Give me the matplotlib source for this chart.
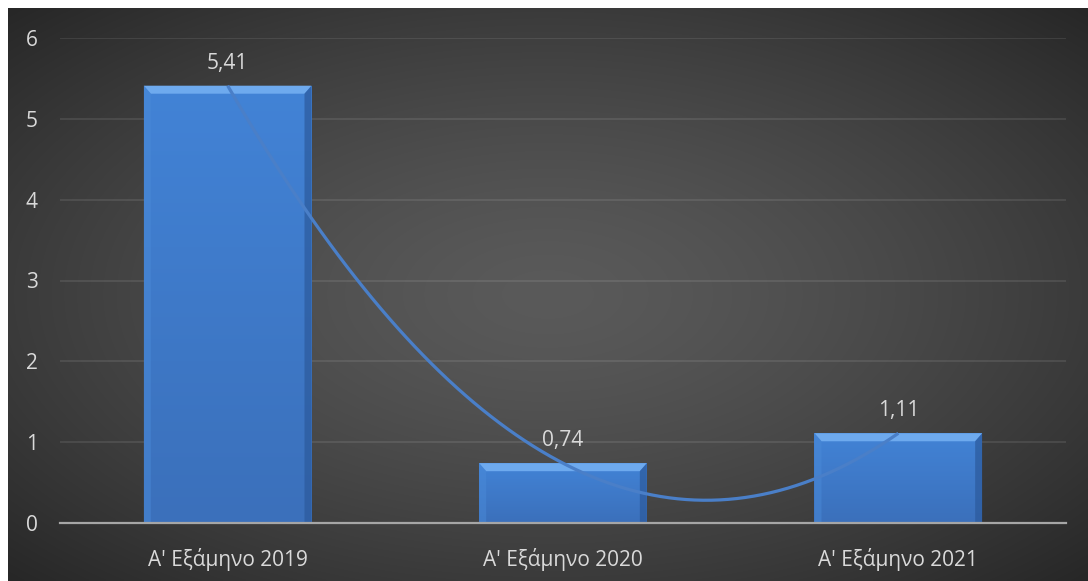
import numpy as np
import matplotlib.pyplot as plt
from matplotlib.colors import LinearSegmentedColormap
from matplotlib.patches import Polygon

periods = ["Α' Εξάμηνο 2019", "Α' Εξάμηνο 2020", "Α' Εξάμηνο 2021"]
values = [5.41, 0.74, 1.11]
yticks = [0, 1, 2, 3, 4, 5, 6]

plt.rcParams['font.family'] = ['Open Sans', 'DejaVu Sans']
txt_color = '#d9d9d9'

fig = plt.figure(figsize=(10.88, 5.81), dpi=100, facecolor='white')

# dark radial background of the chart area
bg = fig.add_axes([8/1088, 0, 1080/1088, 573/581])
bg.set_axis_off()
gx, gy = np.meshgrid(np.linspace(-1, 1, 400), np.linspace(-1, 1, 220))
r = np.clip(np.sqrt(gx**2 + gy**2) / np.sqrt(2), 0, 1)
shade = 0x5a - (0x5a - 0x27) * r**1.4
img = np.dstack([shade, shade, shade]) / 255
bg.imshow(img, extent=[0, 1, 0, 1], aspect='auto', interpolation='bilinear')
bg.set_xlim(0, 1)
bg.set_ylim(0, 1)

ax = fig.add_axes([60/1088, 58/581, 1006/1088, 485/581])
ax.patch.set_alpha(0)
xs = np.arange(len(values))
w = 0.5

ax.set_xlim(-0.5, len(values) - 0.5)
ax.set_ylim(0, 6)

for t in yticks[1:]:
    ax.axhline(t, color='white', alpha=0.11, lw=1.2, zorder=0)

bar_cmap = LinearSegmentedColormap.from_list('b', ['#4283d6', '#3b70bb'])
bars = ax.bar(xs, values, width=w, color='#3f7ccc', zorder=2)
bx = 7 / 335
by = 8 / 80.8
for b, v in zip(bars, values):
    x0, x1 = b.get_x(), b.get_x() + b.get_width()
    grad = np.linspace(0, 1, 100).reshape(-1, 1)
    im = ax.imshow(grad, cmap=bar_cmap, extent=[x0, x1, 0, v], aspect='auto',
                   origin='upper', zorder=2.1)
    im.set_clip_path(b)
    # bevel edges
    ax.add_patch(Polygon([[x0, v], [x1, v], [x1 - bx, v - by], [x0 + bx, v - by]],
                         closed=True, fc='#6eaaee', ec='none', zorder=2.2))
    ax.add_patch(Polygon([[x0, v], [x0 + bx, v - by], [x0 + bx, 0], [x0, 0]],
                         closed=True, fc='#4a8ad8', ec='none', alpha=0.5, zorder=2.2))
    ax.add_patch(Polygon([[x1, v], [x1 - bx, v - by], [x1 - bx, 0], [x1, 0]],
                         closed=True, fc='#2c5a9c', ec='none', alpha=0.7, zorder=2.2))
    ax.text(b.get_x() + b.get_width() / 2, v + 0.28, f"{v:.2f}".replace('.', ','),
            ha='center', va='center', color=txt_color, fontsize=15, zorder=4)

# smoothed line through the bar tops (cubic Hermite)
ys = np.array(values, dtype=float)
d = np.diff(ys)
m = np.zeros_like(ys)
m[1:-1] = (ys[2:] - ys[:-2]) / 2
m[0] = 2 * d[0] - m[1]
m[-1] = 2 * d[-1] - m[-2]
cx, cy = [], []
for i in range(len(ys) - 1):
    t = np.linspace(0, 1, 80)
    h00 = 2*t**3 - 3*t**2 + 1
    h10 = t**3 - 2*t**2 + t
    h01 = -2*t**3 + 3*t**2
    h11 = t**3 - t**2
    cx.extend(xs[i] + t)
    cy.extend(h00*ys[i] + h10*m[i] + h01*ys[i+1] + h11*m[i+1])
ax.plot(cx, cy, color='#4a7fc8', lw=2.3, zorder=3, solid_capstyle='butt')

for s in ['top', 'right', 'left']:
    ax.spines[s].set_visible(False)
ax.spines['bottom'].set_color('#a6a6a6')
ax.spines['bottom'].set_linewidth(1.6)
ax.spines['bottom'].set_zorder(5)

ax.set_yticks(yticks)
ax.set_yticklabels([str(t) for t in yticks])
ax.set_xticks(xs)
ax.set_xticklabels(periods)
ax.tick_params(axis='y', length=0, pad=16, labelcolor=txt_color, labelsize=15)
ax.tick_params(axis='x', length=0, pad=18, labelcolor=txt_color, labelsize=15)

fig.savefig('out.png', dpi=100, facecolor='white')
